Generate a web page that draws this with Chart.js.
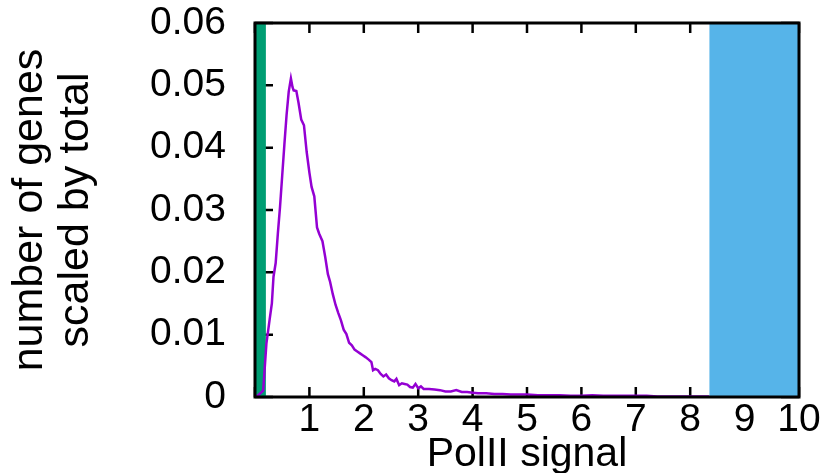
<!DOCTYPE html>
<html>
<head>
<meta charset="utf-8">
<script src="https://cdn.jsdelivr.net/npm/chart.js@4.4.1/dist/chart.umd.min.js"></script>
<style>
  html, body { margin: 0; padding: 0; background: #fff; }
  #wrap { width: 826px; height: 473px; }
</style>
</head>
<body>
<div id="wrap"><canvas id="histChart"></canvas></div>
<script>
// PolII signal histogram
const signalX = [0.00, 0.05, 0.15, 0.21, 0.27, 0.31, 0.34, 0.38, 0.42, 0.46, 0.50, 0.54, 0.58, 0.62, 0.66, 0.69, 0.71, 0.76, 0.80, 0.85,
  0.90, 0.95, 1.00, 1.04, 1.09, 1.14, 1.18, 1.24, 1.29, 1.34, 1.38, 1.43, 1.48, 1.53, 1.58, 1.63, 1.68, 1.73, 1.78, 1.83,
  1.88, 1.93, 1.98, 2.03, 2.09, 2.14, 2.17, 2.21, 2.26, 2.31, 2.36, 2.41, 2.46, 2.51, 2.56, 2.60, 2.65, 2.70, 2.75, 2.80,
  2.85, 2.90, 2.95, 3.00, 3.05, 3.10, 3.20, 3.30, 3.40, 3.50, 3.60, 3.70, 3.80, 3.90, 4.00, 4.10, 4.25, 4.40, 4.55, 4.70,
  4.85, 5.00, 5.20, 5.40, 5.60, 5.80, 6.00, 6.20, 6.40, 6.60, 6.80, 7.00, 7.20, 7.40, 7.60, 7.80, 8.00, 8.20, 8.35];
const genesY = [0.0000, 0.0002, 0.0010, 0.0086, 0.0125, 0.0150, 0.0193, 0.0215, 0.0262, 0.0305, 0.0355, 0.0405, 0.0452, 0.0490, 0.0511, 0.0497, 0.0492, 0.0491, 0.0472, 0.0445,
  0.0436, 0.0393, 0.0360, 0.0337, 0.0322, 0.0272, 0.0262, 0.0250, 0.0225, 0.0197, 0.0185, 0.0165, 0.0148, 0.0135, 0.0123, 0.0108, 0.0101, 0.0087, 0.0083, 0.0076,
  0.0073, 0.0070, 0.0067, 0.0064, 0.0060, 0.0056, 0.0043, 0.0045, 0.0043, 0.0037, 0.0033, 0.0036, 0.0030, 0.0027, 0.0025, 0.0029, 0.0019, 0.0022, 0.0021, 0.0020,
  0.0016, 0.0015, 0.0021, 0.0014, 0.0017, 0.0013, 0.0013, 0.0012, 0.0011, 0.0009, 0.0009, 0.0011, 0.0008, 0.0008, 0.0007, 0.0006, 0.0006, 0.0005, 0.0005, 0.0004,
  0.0004, 0.0004, 0.0003, 0.0003, 0.0003, 0.0002, 0.0002, 0.0003, 0.0002, 0.0002, 0.0002, 0.0002, 0.0002, 0.0001, 0.0001, 0.0001, 0.0001, 0.0001, 0.0001];

// shaded ranges (x from, x to) and their height
const greenBand = [0, 0.2];
const blueBand = [8.35, 10];
const bandTop = 0.06;

const xTickLabels = ['', '1', '2', '3', '4', '5', '6', '7', '8', '9', '10'];
const yTickLabels = ['0', '0.01', '0.02', '0.03', '0.04', '0.05', '0.06'];

const FONT = 'Liberation Sans, Arial, sans-serif';

function toPoints(xs, ys) {
  return xs.map((x, i) => ({ x: x, y: ys[i] }));
}
function bandPoints(range) {
  return range.map(x => ({ x: x, y: bandTop }));
}

// ticks pointing inward on all four sides, drawn under the data
const innerTicks = {
  id: 'innerTicks',
  beforeDatasetsDraw(chart) {
    const ctx = chart.ctx;
    const a = chart.chartArea;
    const xs = chart.scales.x, ys = chart.scales.y;
    ctx.save();
    ctx.strokeStyle = '#000';
    ctx.lineWidth = 2.5;
    ctx.beginPath();
    xs.ticks.forEach(t => {
      const px = xs.getPixelForValue(t.value);
      ctx.moveTo(px, a.bottom); ctx.lineTo(px, a.bottom - 10);
      ctx.moveTo(px, a.top); ctx.lineTo(px, a.top + 10);
    });
    ys.ticks.forEach(t => {
      const py = ys.getPixelForValue(t.value);
      ctx.moveTo(a.left, py); ctx.lineTo(a.left + 18, py);
      ctx.moveTo(a.right, py); ctx.lineTo(a.right - 18, py);
    });
    ctx.stroke();
    ctx.restore();
  },
  afterDatasetsDraw(chart) {
    const ctx = chart.ctx;
    const a = chart.chartArea;
    ctx.save();
    ctx.strokeStyle = '#000';
    ctx.lineWidth = 3;
    ctx.strokeRect(a.left, a.top, a.right - a.left, a.bottom - a.top);
    ctx.restore();
  }
};

new Chart(document.getElementById('histChart'), {
  type: 'scatter',
  data: {
    datasets: [
      {
        label: 'high',
        data: bandPoints(blueBand),
        showLine: true,
        fill: 'origin',
        backgroundColor: '#56B4E9',
        borderWidth: 0,
        pointRadius: 0,
        order: 0
      },
      {
        label: 'PolII',
        data: toPoints(signalX, genesY),
        showLine: true,
        borderColor: '#9400D3',
        borderWidth: 2.5,
        pointRadius: 0,
        tension: 0,
        order: 1
      },
      {
        label: 'low',
        data: bandPoints(greenBand),
        showLine: true,
        fill: 'origin',
        backgroundColor: '#009E73',
        borderWidth: 0,
        pointRadius: 0,
        order: 2
      }
    ]
  },
  options: {
    responsive: true,
    maintainAspectRatio: false,
    animation: false,
    layout: { padding: { top: 23, right: 27, left: 0, bottom: 0 } },
    plugins: {
      legend: { display: false },
      tooltip: { enabled: false }
    },
    scales: {
      x: {
        type: 'linear',
        min: 0,
        max: 10,
        grid: { display: false, drawTicks: false },
        border: { display: false },
        ticks: {
          stepSize: 1,
          padding: 0,
          color: '#000',
          maxRotation: 0,
          font: { family: FONT, size: 39 },
          callback: (v, i) => xTickLabels[i]
        },
        title: {
          display: true,
          text: 'PolII signal',
          color: '#000',
          padding: { top: 0, bottom: 2 },
          font: { family: FONT, size: 41, lineHeight: 0.8 }
        },
        afterFit(scale) {
          scale.height = 76;
          scale.paddingLeft = 0;
          scale.paddingRight = 0;
        }
      },
      y: {
        min: 0,
        max: 0.06,
        grid: { display: false, drawTicks: false },
        border: { display: false },
        ticks: {
          stepSize: 0.01,
          padding: 29,
          color: '#000',
          font: { family: FONT, size: 39 },
          callback: (v, i) => yTickLabels[i]
        },
        title: {
          display: true,
          text: ['number of genes', 'scaled by total'],
          color: '#000',
          padding: { top: 8, bottom: 0 },
          font: { family: FONT, size: 43, lineHeight: 1.05 }
        },
        afterFit(scale) {
          scale.width = 255;
          scale.paddingTop = 0;
          scale.paddingBottom = 0;
        }
      }
    }
  },
  plugins: [innerTicks]
});
</script>
</body>
</html>
